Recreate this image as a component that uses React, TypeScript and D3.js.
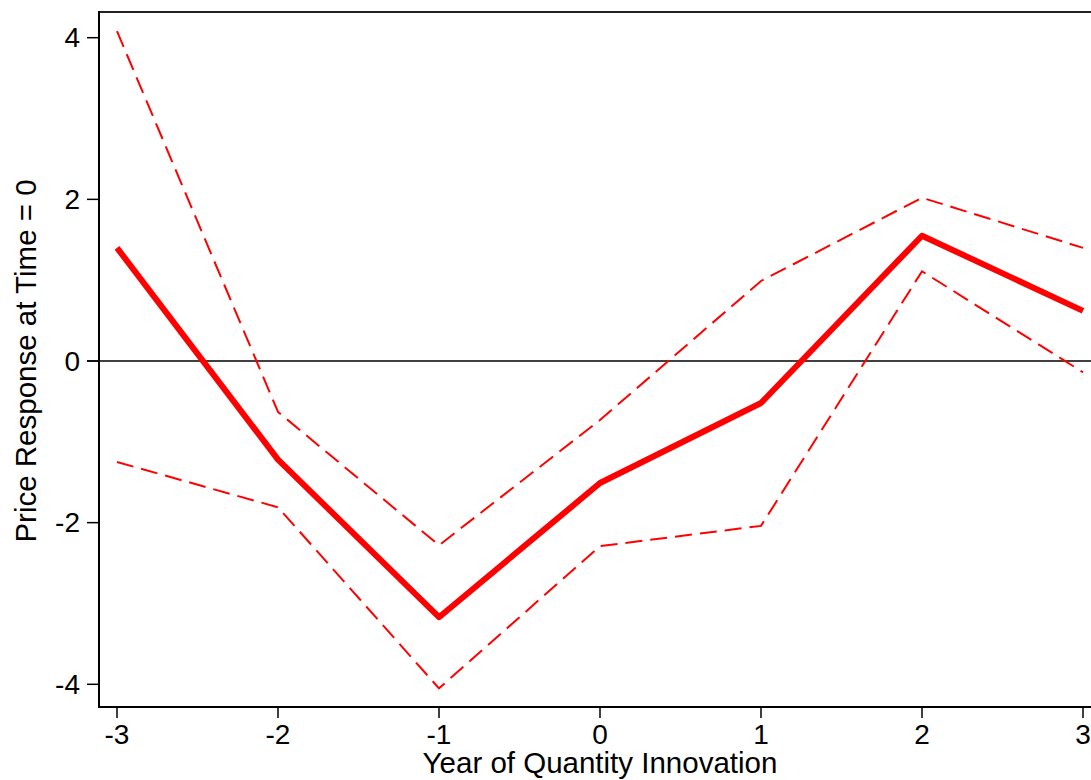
import React from "react";
import * as d3 from "d3";

const years = [-3, -2, -1, 0, 1, 2, 3];
const estimate = [1.40, -1.22, -3.17, -1.51, -0.52, 1.55, 0.62];
const upper = [4.08, -0.63, -2.28, -0.73, 0.99, 2.02, 1.40];
const lower = [-1.25, -1.81, -4.05, -2.29, -2.04, 1.11, -0.14];
const xTicks = [-3, -2, -1, 0, 1, 2, 3];
const yTicks = [-4, -2, 0, 2, 4];

const W = 1091;
const H = 780;
const left = 99;
const top = 12;
const bottom = 707;

export default function App() {
  const x = d3.scaleLinear().domain([-3, 3]).range([117, 1083]);
  const y = d3.scaleLinear().domain([-4, 4]).range([684.3, 37.7]);
  const line = (vals: number[]) =>
    d3.line<number>().x((_, i) => x(years[i])).y((v) => y(v))(vals) || "";
  const font = "'Liberation Sans', Arial, sans-serif";
  return (
    <svg
      width={W}
      height={H}
      style={{ position: "absolute", left: 0, top: 0, background: "#fff" }}
      fontFamily={font}
    >
      <rect x={0} y={0} width={W} height={H} fill="#fff" />
      {/* top border */}
      <line x1={left} x2={W} y1={top} y2={top} stroke="#222" strokeWidth={2} />
      {/* zero line */}
      <line x1={87} x2={W} y1={y(0)} y2={y(0)} stroke="#000" strokeWidth={1.5} />
      {/* left axis */}
      <line x1={left} x2={left} y1={top - 1} y2={bottom + 1} stroke="#000" strokeWidth={2} />
      {/* bottom axis */}
      <line x1={left - 1} x2={W} y1={bottom} y2={bottom} stroke="#000" strokeWidth={2} />
      {yTicks.map((t) => (
        <g key={"y" + t}>
          <line x1={87} x2={left} y1={y(t)} y2={y(t)} stroke="#000" strokeWidth={1.5} />
          <text
            x={80}
            y={y(t)}
            textAnchor="end"
            dominantBaseline="central"
            fontSize={28}
            fill="#000"
          >
            {t}
          </text>
        </g>
      ))}
      {xTicks.map((t) => (
        <g key={"x" + t}>
          <line x1={x(t)} x2={x(t)} y1={bottom} y2={718} stroke="#000" strokeWidth={1.5} />
          <text x={x(t)} y={744} textAnchor="middle" fontSize={28} fill="#000">
            {t}
          </text>
        </g>
      ))}
      <path d={line(upper)} fill="none" stroke="#ff0000" strokeWidth={2} strokeDasharray="17,8" />
      <path d={line(lower)} fill="none" stroke="#ff0000" strokeWidth={2} strokeDasharray="17,8" />
      <path d={line(estimate)} fill="none" stroke="#ff0000" strokeWidth={6} strokeLinejoin="round" />
      <text x={600} y={773} textAnchor="middle" fontSize={29.5} fill="#000">
        Year of Quantity Innovation
      </text>
      <text
        transform={`translate(36, ${y(0)}) rotate(-90)`}
        textAnchor="middle"
        fontSize={29.5}
        fill="#000"
      >
        Price Response at Time = 0
      </text>
    </svg>
  );
}
